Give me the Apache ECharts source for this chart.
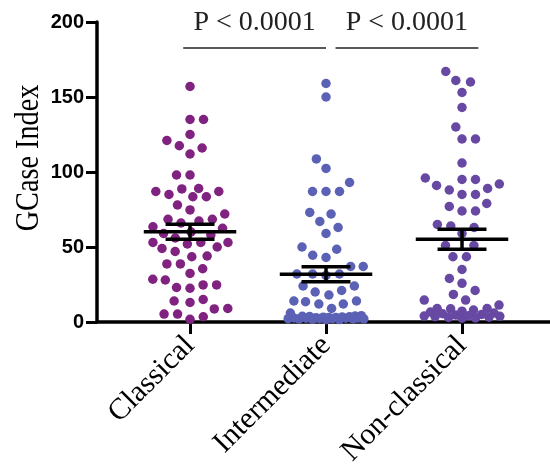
<!DOCTYPE html>
<html>
<head>
<meta charset="utf-8">
<script src="https://cdn.jsdelivr.net/npm/echarts@6/dist/echarts.min.js"></script>
<style>
  html, body { margin: 0; padding: 0; background: #fff; }
  #main { width: 550px; height: 466px; }
</style>
</head>
<body>
<div id="main"></div>
<script>
// groups, in x order
var categories = ['Classical', 'Intermediate', 'Non-classical']
var groupColors = ['#80227f', '#5b61b5', '#6749a3']

// GCase index values
var classical = [157, 135, 135, 125, 121, 117.5, 116, 112, 98, 98, 89, 88.7, 87, 87, 85, 83.5, 83.5,
  78, 74.7, 72, 68.5, 68.5, 67.3, 66, 63.5, 62.5, 60, 59, 58, 56, 53, 53, 53, 52, 50, 49, 47,
  44, 43.5, 38.7, 38.7, 35.5, 32.4, 28.5, 28, 24.7, 24.7, 23, 22.5, 15, 14, 13, 9, 8.7, 5.3, 5.3, 3.5, 1.8]
var intermediate = [159, 150, 108.7, 102.4, 93, 87, 87, 87, 73, 72, 67, 63, 59, 50, 48.5, 44.5, 43,
  37, 37, 32, 32, 32, 31, 24, 24, 21, 20, 18, 14, 14, 13.5, 12, 12, 9, 6,
  1.5, 1.6, 1.8, 2, 2, 2.1, 2.2, 2.3, 2.4, 2.5, 2.5, 2.6, 2.7, 2.8, 3, 3, 3.2, 3.3, 3.5, 3.6, 3.8, 4, 4.2]
var nonClassical = [167, 161, 160, 153, 143, 130, 122, 122, 106, 96, 95, 95, 92, 91, 89, 88, 85, 85,
  79, 77, 74, 74, 65, 64, 63, 59, 51, 51, 43.5, 43.5, 35, 29, 25.8, 21, 18.4, 14.6, 14.6, 11.3, 9, 9,
  2.5, 2.7, 3, 3.2, 3.5, 3.8, 4, 4.2, 4.6, 5, 5.5, 6, 6.6, 7.2, 8, 8.8]
var groupValues = [classical, intermediate, nonClassical]

// significance brackets: [from x, to x, y value], label
var brackets = [[0.95, 2.0, 182.7], [2.07, 3.12, 182.7]]
var bracketLabels = ['P < 0.0001', 'P < 0.0001']

var chart = echarts.init(document.getElementById('main'))

function meanSem(arr) {
  let n = arr.length
  let m = arr.reduce((a, b) => a + b, 0) / n
  let v = arr.reduce((a, b) => a + (b - m) * (b - m), 0) / (n - 1)
  return [m, Math.sqrt(v) / Math.sqrt(n)]
}

// simple beeswarm, in pixels; squeezes points together when a row gets too wide
function swarm(vals, ky, D, W) {
  let pts = vals.map(v => ({ v: v, y: v * ky })).sort((a, b) => a.y - b.y)
  let placed = []
  let side = 1
  for (let p of pts) {
    let d = D
    let x = null
    while (x === null) {
      let ivs = []
      for (let q of placed) {
        let dy = p.y - q.y
        if (Math.abs(dy) < d) {
          let h = Math.sqrt(d * d - dy * dy)
          ivs.push([q.x - h, q.x + h])
        }
      }
      let cands = [0]
      ivs.forEach(iv => { cands.push(iv[0], iv[1]) })
      cands.sort((a, b) => (Math.round(Math.abs(a) * 1000) - Math.round(Math.abs(b) * 1000)) ||
        (Math.sign(b) * side - Math.sign(a) * side))
      for (let c of cands) {
        if (Math.abs(c) > W) break
        if (ivs.every(iv => c <= iv[0] + 1e-6 || c >= iv[1] - 1e-6)) { x = c; break }
      }
      d *= 0.93
    }
    if (x !== 0) side = -Math.sign(x)
    placed.push({ y: p.y, x: x })
    p.x = x
  }
  return pts
}

var option = {
  backgroundColor: '#fff',
  animation: false,
  grid: { left: 97, right: 0, top: 22, bottom: 144, outerBoundsMode: 'none', containLabel: false },
  xAxis: {
    type: 'value',
    min: 0.316,
    max: 3.647,
    axisLine: { onZero: false, lineStyle: { color: '#000', width: 3.5 } },
    axisTick: { show: true, customValues: [1, 2, 3], length: 12, lineStyle: { color: '#000', width: 3 } },
    axisLabel: {
      customValues: [1, 2, 3],
      formatter: function (v) { return categories[Math.round(v) - 1] },
      rotate: 45,
      margin: 19,
      color: '#000',
      fontFamily: 'Liberation Serif',
      fontSize: 30
    },
    splitLine: { show: false }
  },
  yAxis: {
    type: 'value',
    min: 0,
    max: 200,
    interval: 50,
    axisLine: { show: true, onZero: false, lineStyle: { color: '#000', width: 3.5 } },
    axisTick: { show: true, length: 11, lineStyle: { color: '#000', width: 3 } },
    axisLabel: {
      margin: 13,
      color: '#000',
      fontFamily: 'Liberation Sans',
      fontWeight: 'bold',
      fontSize: 20
    },
    splitLine: { show: false }
  },
  graphic: [{
    type: 'text',
    x: 29,
    y: 158,
    rotation: Math.PI / 2,
    scaleX: 0.83,
    style: {
      text: 'GCase Index',
      fill: '#000',
      font: '34px "Liberation Serif"',
      align: 'center',
      verticalAlign: 'middle'
    }
  }],
  series: []
}
chart.setOption(option)

// scales from the chart itself
var p0 = chart.convertToPixel({ gridIndex: 0 }, [1, 0])
var p1 = chart.convertToPixel({ gridIndex: 0 }, [2, 100])
var kx = p1[0] - p0[0]
var ky = (p0[1] - p1[1]) / 100

var series = []
groupValues.forEach((vals, gi) => {
  let pts = swarm(vals, ky, 13.5, 38)
  series.push({
    type: 'scatter',
    name: categories[gi],
    symbol: 'circle',
    symbolSize: 9.5,
    itemStyle: { color: groupColors[gi], opacity: 1 },
    data: pts.map(p => [gi + 1 + p.x / kx, p.v]),
    z: 2
  })
})

var stats = groupValues.map(meanSem)
series.push({
  type: 'custom',
  name: 'mean ± SEM',
  z: 5,
  data: stats.map((s, i) => [i + 1, s[0], s[1]]),
  renderItem: function (params, api) {
    let x = api.value(0), m = api.value(1), e = api.value(2)
    let wm = 0.34, ws = 0.18
    let style = { stroke: '#000', lineWidth: 3.5 }
    let seg = (a, b) => ({ type: 'line', shape: { x1: a[0], y1: a[1], x2: b[0], y2: b[1] }, style: style })
    return {
      type: 'group',
      children: [
        seg(api.coord([x - wm, m]), api.coord([x + wm, m])),
        seg(api.coord([x - ws, m + e]), api.coord([x + ws, m + e])),
        seg(api.coord([x - ws, m - e]), api.coord([x + ws, m - e])),
        seg(api.coord([x, m + e]), api.coord([x, m - e]))
      ]
    }
  }
})

series.push({
  type: 'custom',
  name: 'brackets',
  z: 5,
  data: brackets.map((b, i) => [b[0], b[1], b[2], i]),
  renderItem: function (params, api) {
    let a = api.coord([api.value(0), api.value(2)])
    let b = api.coord([api.value(1), api.value(2)])
    let label = bracketLabels[api.value(3)]
    return {
      type: 'group',
      children: [
        { type: 'line', shape: { x1: a[0], y1: a[1], x2: b[0], y2: b[1] }, style: { stroke: '#222', lineWidth: 1.5 } },
        {
          type: 'text', x: (a[0] + b[0]) / 2, y: a[1] - 25,
          style: { text: label, fill: '#222', font: '28px "Liberation Serif"', align: 'center', verticalAlign: 'middle' }
        }
      ]
    }
  }
})

chart.setOption({ series: series })
</script>
</body>
</html>
